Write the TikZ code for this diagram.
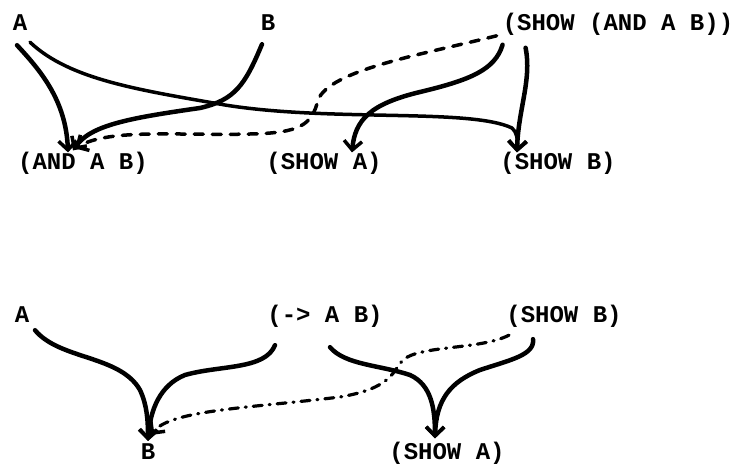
\documentclass[tikz,border=0pt]{standalone}
\usepackage{fontspec}
\setmainfont{Liberation Mono}
\usetikzlibrary{arrows.meta}

\begin{document}
\begin{tikzpicture}[x=1pt,y=-1pt,
    term/.style={inner sep=0pt,anchor=base,font=\fontsize{24}{28}\selectfont\bfseries},
    link/.style={line width=4.5pt,line cap=round,-{Straight Barb[length=9pt,width=18pt,line width=3.5pt]}},
    thin link/.style={link,line width=3.5pt},
    proof/.style={link,line width=3.5pt,dash pattern=on 9pt off 9pt},
    chain/.style={link,line width=3.2pt,dash pattern=on 9pt off 7pt on 1pt off 7pt}]
  \useasboundingbox (0,0) rectangle (739,465);
  % upper picture
  \node[term] (tA) at (20,31) {A};
  \node[term] (tB) at (268,31) {B};
  \node[term] (tShowAnd) at (618,31) {(SHOW (AND A B))};
  \node[term] (tAnd) at (83,170) {(AND A B)};
  \node[term] (tShowA) at (324,170) {(SHOW A)};
  \node[term] (tShowB) at (558,170) {(SHOW B)};
  \draw[link] ([shift={(-3,14)}]tA.south) .. controls (40,70) and (66,100) .. ([shift={(-15,0)}]tAnd.north);
  \draw[thin link] ([shift={(10,11)}]tA.south) .. controls (70,80) and (140,90) .. (225,105)
    .. controls (330,122) and (470,108) .. (512,128) .. controls (517,132) and (518,140) .. ([shift={(-41,0)}]tShowB.north);
  \draw[link] ([shift={(-6,13)}]tB.south) .. controls (245,85) and (235,100) .. (200,108)
    .. controls (130,118) and (90,125) .. ([shift={(-10,-2)}]tAnd.north);
  \draw[proof] ([shift={(-6,11)}]tShowAnd.west) .. controls (420,55) and (330,70) .. (318,100)
    .. controls (312,125) and (300,133) .. (250,134) .. controls (180,136) and (110,128) .. ([shift={(-8,-4)}]tAnd.north);
  \draw[link] ([shift={(0,20)}]tShowAnd.west) .. controls (495,70) and (470,80) .. (420,92)
    .. controls (370,104) and (355,120) .. ([shift={(28,0)}]tShowA.north);
  \draw[link] ([shift={(23,23)}]tShowAnd.west) .. controls (532,80) and (518,110) .. ([shift={(-41,0)}]tShowB.north);
  % lower picture
  \node[term] (bA) at (22,322) {A};
  \node[term] (bImp) at (325,322) {(-> A B)};
  \node[term] (bShowB) at (564,322) {(SHOW B)};
  \node[term] (bB) at (148,459) {B};
  \node[term] (bShowA) at (447,459) {(SHOW A)};
  \draw[link] ([shift={(13,8)}]bA.south) .. controls (60,360) and (120,355) .. (140,390)
    .. controls (147,405) and (148,420) .. ([shift={(0,-2)}]bB.north);
  \draw[link] ([shift={(-50,18)}]bImp.south) .. controls (265,370) and (220,365) .. (185,375)
    .. controls (160,385) and (150,410) .. ([shift={(0,-2)}]bB.north);
  \draw[chain] ([shift={(-55,8)}]bShowB.south) .. controls (480,350) and (420,345) .. (403,360)
    .. controls (392,372) and (392,388) .. (340,397) .. controls (250,408) and (170,410) .. ([shift={(3,-8)}]bB.north);
  \draw[link] ([shift={(5,20)}]bImp.south) .. controls (345,365) and (380,365) .. (410,375)
    .. controls (432,385) and (435,410) .. ([shift={(-12,-3)}]bShowA.north);
  \draw[link] ([shift={(-31,12)}]bShowB.south) .. controls (535,355) and (510,360) .. (480,370)
    .. controls (450,382) and (436,400) .. ([shift={(-12,-3)}]bShowA.north);
\end{tikzpicture}
\end{document}
